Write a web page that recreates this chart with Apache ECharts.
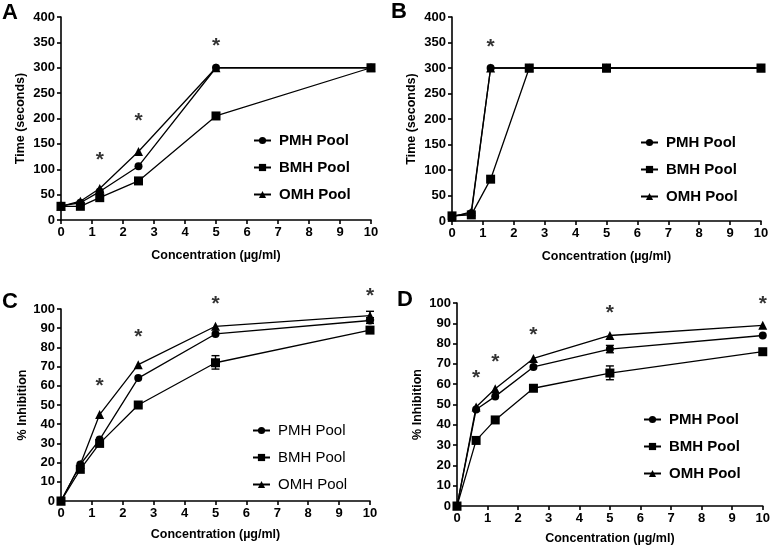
<!DOCTYPE html>
<html>
<head>
<meta charset="utf-8">
<script src="https://cdn.jsdelivr.net/npm/echarts@6/dist/echarts.min.js"></script>
<style>html,body{margin:0;padding:0;background:#fff}#c{width:773px;height:548px}</style>
</head>
<body>
<div id="c"></div>
<script>
// ---- data ----
const xVals = [0, 0.625, 1.25, 2.5, 5, 10];
const xTicks = [0,1,2,3,4,5,6,7,8,9,10];
const seriesNames = ['PMH Pool', 'BMH Pool', 'OMH Pool'];

// Panel A: clotting time (seconds)
const aPMH = [28, 34, 56, 106, 300, 300];
const aBMH = [27, 27, 44, 77, 205, 300];
const aOMH = [27, 37, 62, 135, 300, 300];
const aStars = [[1.25, 125], [2.5, 202], [5, 351]];

// Panel B: clotting time (seconds)
const bPMH = [10, 15, 300, 300, 300, 300];
const bBMH = [10, 12, 82, 300, 300, 300];
const bOMH = [8, 18, 300, 300, 300, 300];
const bStars = [[1.25, 349]];

// Panel C: % inhibition
const cPMH = [0, 19, 32, 64, 87, 94];
const cBMH = [0, 16.5, 30, 50, 72, 89];
const cOMH = [0, 19, 45, 71, 91, 96.5];
const cErr = [[5, 68.7, 75.7], [10, 94.2, 98.8], [10, 92.5, 95.5]];
const cStars = [[1.25, 62], [2.5, 87.5], [5, 104.5], [10, 109]];

// Panel D: % inhibition
const dPMH = [0, 47.5, 54, 68.5, 77.3, 84];
const dBMH = [0, 32.3, 42.4, 58, 65.5, 76];
const dOMH = [0, 48.8, 57.8, 72.7, 84, 89];
const dErr = [[5, 62.2, 69], [5, 75.5, 79.1]];
const dStars = [[0.625, 65], [1.25, 73], [2.5, 86], [5, 97], [10, 101.6]];

// ---- chart ----
const FF = 'Liberation Sans, Arial, sans-serif';
const zip = ys => xVals.map((x, i) => [x, ys[i]]);
const black = '#000';

const grids = [
  {left: 61, top: 17, width: 310, height: 203},
  {left: 452, top: 17, width: 309, height: 204},
  {left: 61, top: 309, width: 309, height: 192},
  {left: 457, top: 303, width: 308, height: 203}
];

function xAx(gi, gap) {
  return {
    type: 'value', gridIndex: gi, min: 0, max: 10, interval: 1,
    axisLine: {show: true, onZero: false, lineStyle: {color: black, width: 1.6}},
    axisTick: {show: true, length: 4, lineStyle: {color: black, width: 1.6}},
    axisLabel: {color: black, fontWeight: 'bold', fontSize: 13, margin: 6, fontFamily: FF,
      formatter: v => xTicks.includes(v) ? String(v) : ''},
    splitLine: {show: false},
    name: 'Concentration (µg/ml)', nameLocation: 'middle', nameGap: gap,
    nameTextStyle: {color: black, fontWeight: 'bold', fontSize: 12.5, fontFamily: FF}
  };
}
function yAx(gi, max, interval, name, gap) {
  return {
    type: 'value', gridIndex: gi, min: 0, max: max, interval: interval,
    axisLine: {show: true, onZero: false, lineStyle: {color: black, width: 1.6}},
    axisTick: {show: true, length: 4, lineStyle: {color: black, width: 1.6}},
    axisLabel: {color: black, fontWeight: 'bold', fontSize: 13, margin: 6, fontFamily: FF},
    splitLine: {show: false},
    name: name, nameLocation: 'middle', nameGap: gap, nameRotate: 90,
    nameTextStyle: {color: black, fontWeight: 'bold', fontSize: 12.5, fontFamily: FF}
  };
}

const symbols = {'PMH Pool': ['circle', 8], 'BMH Pool': ['rect', 9], 'OMH Pool': ['triangle', 9]};
function lineS(gi, name, ys) {
  return {
    type: 'line', name: name, xAxisIndex: gi, yAxisIndex: gi, data: zip(ys),
    symbol: symbols[name][0], symbolSize: symbols[name][1], showSymbol: true,
    color: black, itemStyle: {color: black}, lineStyle: {color: black, width: 1.3},
    animation: false, z: 3
  };
}
function starS(gi, pts) {
  return {
    type: 'scatter', name: 'sig' + gi, xAxisIndex: gi, yAxisIndex: gi, data: pts,
    symbolSize: 2, itemStyle: {color: 'rgba(0,0,0,0)'}, clip: false, silent: true, animation: false,
    label: {show: true, position: 'inside', formatter: '*', color: black, fontSize: 21,
      fontWeight: 'bold', fontFamily: FF, offset: [0, 4]},
    z: 5
  };
}
function errS(gi, pts) {
  return {
    type: 'custom', name: 'err' + gi, xAxisIndex: gi, yAxisIndex: gi, data: pts,
    silent: true, animation: false, z: 2,
    renderItem: (params, api) => {
      const lo = api.coord([api.value(0), api.value(1)]);
      const hi = api.coord([api.value(0), api.value(2)]);
      const w = 4;
      const st = {stroke: black, lineWidth: 1.4};
      return {type: 'group', children: [
        {type: 'line', shape: {x1: lo[0], y1: lo[1], x2: hi[0], y2: hi[1]}, style: st},
        {type: 'line', shape: {x1: lo[0] - w, y1: lo[1], x2: lo[0] + w, y2: lo[1]}, style: st},
        {type: 'line', shape: {x1: hi[0] - w, y1: hi[1], x2: hi[0] + w, y2: hi[1]}, style: st}
      ]};
    }
  };
}
function panelSeries(gi, p, b, o) {
  return [lineS(gi, 'OMH Pool', o), lineS(gi, 'PMH Pool', p), lineS(gi, 'BMH Pool', b)];
}
function legend(left, top, bold) {
  return {
    orient: 'vertical', left: left, top: top, data: seriesNames,
    itemWidth: 17, itemHeight: 9, itemGap: 12, padding: 0, selectedMode: false,
    textStyle: {color: black, fontSize: 15, fontWeight: bold ? 'bold' : 'normal', fontFamily: FF, padding: [0, 0, 0, 3]}
  };
}
function letter(t, left, top) {
  return {text: t, left: left, top: top, padding: 0,
    textStyle: {color: black, fontSize: 22, fontWeight: 'bold', fontFamily: FF}};
}

const chart = echarts.init(document.getElementById('c'), null, {renderer: 'canvas'});
chart.setOption({
  backgroundColor: '#fff',
  animation: false,
  title: [letter('A', 2, 2), letter('B', 391, 1), letter('C', 2, 291), letter('D', 397, 289)],
  grid: grids,
  xAxis: [xAx(0, 29), xAx(1, 29), xAx(2, 27), xAx(3, 26)],
  yAxis: [
    yAx(0, 400, 50, 'Time (seconds)', 34),
    yAx(1, 400, 50, 'Time (seconds)', 34),
    yAx(2, 100, 10, '% Inhibition', 32),
    yAx(3, 100, 10, '% Inhibition', 33)
  ],
  legend: [legend(253, 133, true), legend(640, 135, true), legend(252, 423, false), legend(643, 412, true)],
  series: [].concat(
    panelSeries(0, aPMH, aBMH, aOMH), [starS(0, aStars)],
    panelSeries(1, bPMH, bBMH, bOMH), [starS(1, bStars)],
    [errS(2, cErr)], panelSeries(2, cPMH, cBMH, cOMH), [starS(2, cStars)],
    [errS(3, dErr)], panelSeries(3, dPMH, dBMH, dOMH), [starS(3, dStars)]
  )
});
</script>
</body>
</html>
